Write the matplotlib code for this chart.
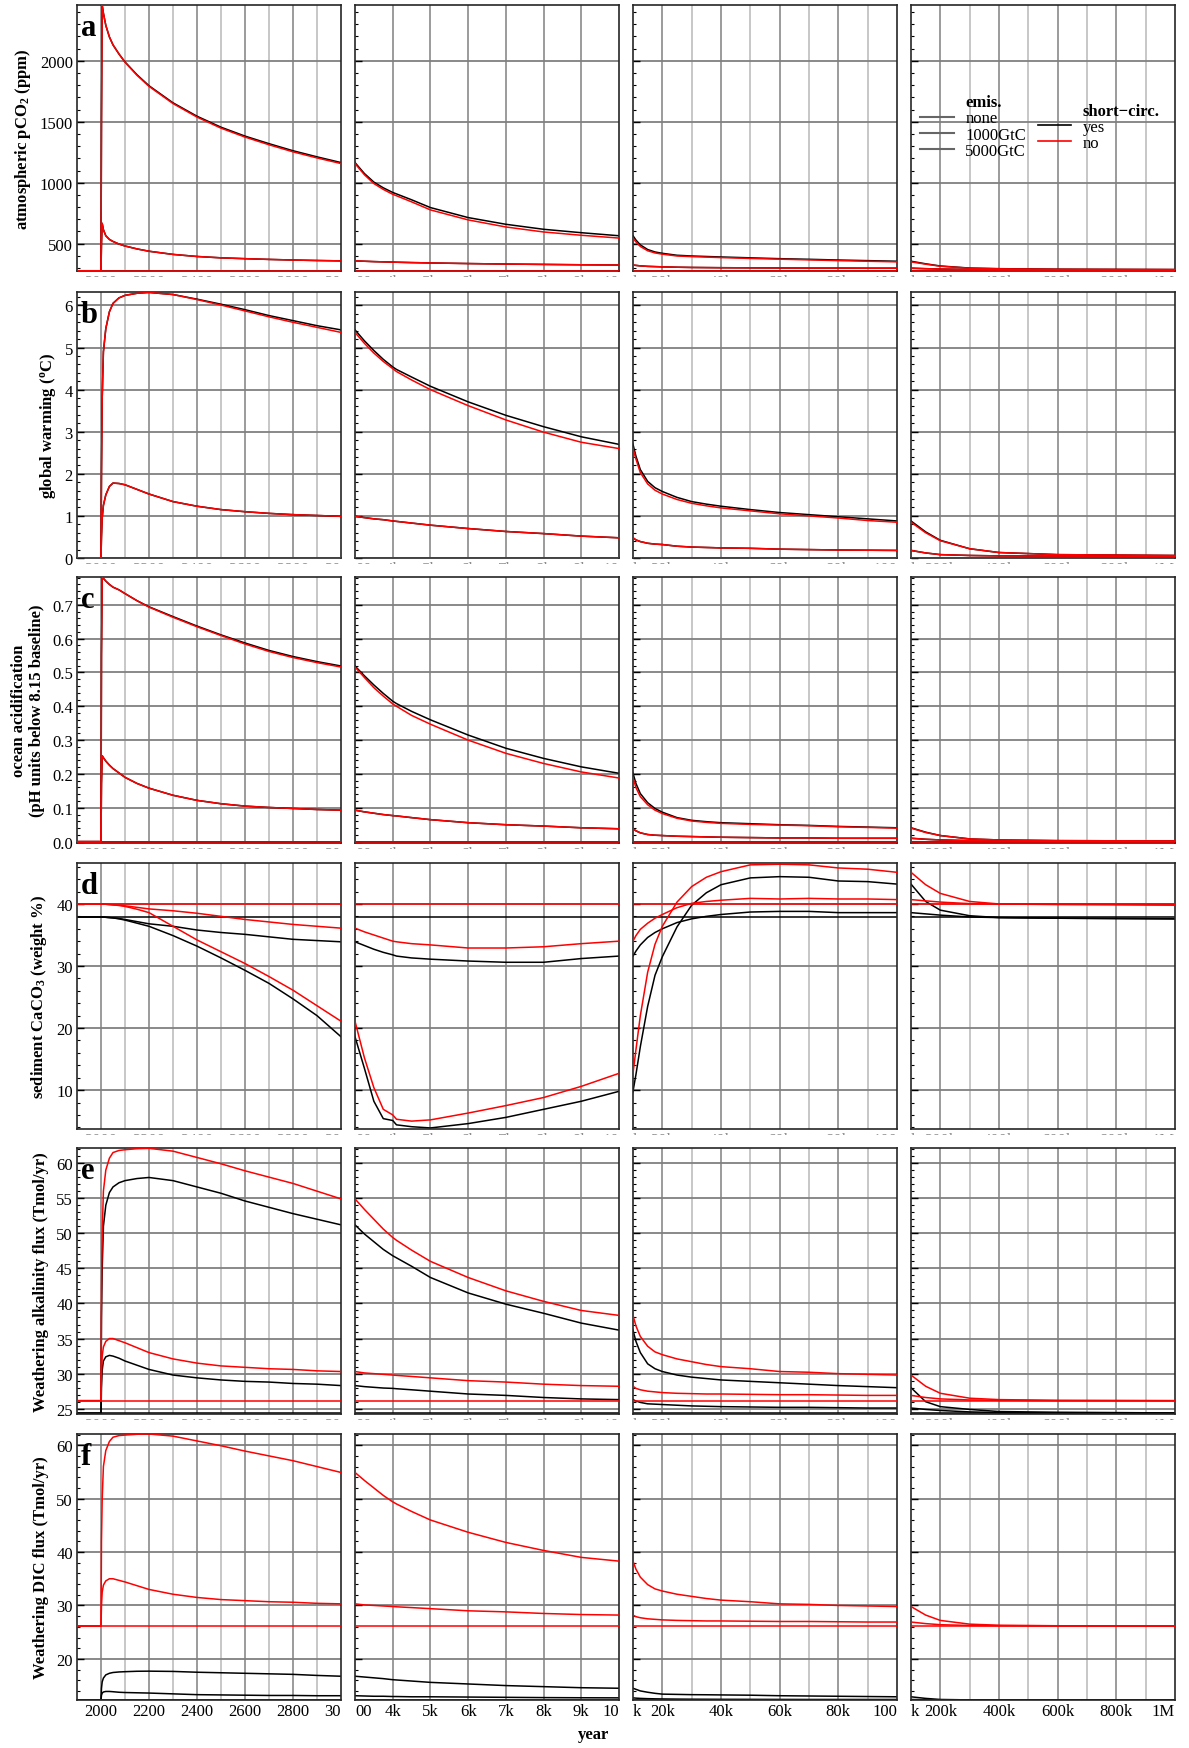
import matplotlib
matplotlib.use('Agg')
import matplotlib.pyplot as plt
from matplotlib.lines import Line2D
from matplotlib.ticker import MultipleLocator
from matplotlib.transforms import Bbox, TransformedBbox

plt.rcParams['font.family'] = 'Liberation Serif'
plt.rcParams['mathtext.fontset'] = 'custom'
plt.rcParams['mathtext.rm'] = 'Liberation Serif'
plt.rcParams['mathtext.it'] = 'Liberation Serif:italic'
plt.rcParams['mathtext.bf'] = 'Liberation Serif:bold'

# common time axis (years), shared by every series
years = [1900, 2000, 2002, 2005, 2010,
         2020, 2035, 2050, 2075, 2100,
         2150, 2200, 2300, 2400, 2500,
         2600, 2700, 2800, 2900, 3000,
         3250, 3500, 3750, 4000, 4100,
         4500, 5000, 6000, 7000, 8000,
         9000, 10000, 11000, 12500, 15000,
         17500, 20000, 25000, 30000, 35000,
         40000, 50000, 60000, 70000, 80000,
         90000, 100000, 150000, 200000, 300000,
         400000, 600000, 1000000]

# a: atmospheric pCO2 (ppm)
co2_none = 278
co2_1000 = [278, 278, 500, 667, 615,
            565, 535, 518, 497, 481,
            457, 438, 412, 395, 384,
            377, 371, 366, 362, 359,
            356, 353, 351, 349, 348,
            345, 342, 337, 333, 330,
            327, 325, 322, 318, 314,
            312, 310, 307, 305, 304,
            303, 302, 301, 300, 300,
            299, 299, 295, 292, 289,
            287, 285, 283]
co2_5000_yes = [278, 278, 1500, 2457, 2390,
                2290, 2195, 2130, 2055, 1990,
                1885, 1795, 1655, 1545, 1455,
                1382, 1320, 1262, 1212, 1165,
                1075, 1005, 958, 920, 908,
                860, 796, 714, 659, 618,
                590, 565, 530, 490, 452,
                432, 421, 405, 399, 395,
                391, 384, 377, 372, 366,
                361, 356, 335, 317, 300,
                295, 291, 288]
co2_5000_no = [278, 278, 1500, 2457, 2390,
               2290, 2195, 2130, 2055, 1988,
               1881, 1790, 1649, 1538, 1447,
               1374, 1311, 1253, 1203, 1157,
               1065, 993, 945, 905, 893,
               843, 777, 695, 637, 596,
               569, 546, 515, 477, 442,
               424, 414, 399, 394, 390,
               386, 379, 373, 367, 361,
               356, 351, 332, 315, 299,
               294, 290, 288]

# b: global warming (C)
warm_none = 0.0
warm_1000 = [0, 0, 0.5, 0.95, 1.25,
             1.5, 1.7, 1.78, 1.77, 1.74,
             1.63, 1.52, 1.34, 1.23, 1.15,
             1.10, 1.06, 1.03, 1.01, 0.99,
             0.96, 0.93, 0.91, 0.88, 0.87,
             0.83, 0.78, 0.70, 0.63, 0.58,
             0.52, 0.48, 0.43, 0.39, 0.35,
             0.33, 0.32, 0.28, 0.26, 0.25,
             0.24, 0.23, 0.21, 0.20, 0.19,
             0.185, 0.18, 0.12, 0.08, 0.06,
             0.05, 0.045, 0.04]
warm_5000_yes = [0, 0, 2.0, 3.8, 4.9,
                 5.45, 5.85, 6.05, 6.18, 6.24,
                 6.29, 6.31, 6.26, 6.15, 6.03,
                 5.90, 5.76, 5.64, 5.52, 5.42,
                 5.16, 4.93, 4.72, 4.54, 4.48,
                 4.30, 4.08, 3.71, 3.39, 3.12,
                 2.88, 2.70, 2.42, 2.10, 1.82,
                 1.67, 1.58, 1.44, 1.34, 1.28,
                 1.23, 1.15, 1.08, 1.03, 0.98,
                 0.93, 0.88, 0.62, 0.42, 0.22,
                 0.13, 0.08, 0.06]
warm_5000_no = [0, 0, 2.0, 3.8, 4.9,
                5.45, 5.85, 6.05, 6.18, 6.24,
                6.29, 6.31, 6.26, 6.14, 6.01,
                5.87, 5.73, 5.60, 5.48, 5.36,
                5.10, 4.87, 4.67, 4.50, 4.43,
                4.23, 4.00, 3.62, 3.28, 2.99,
                2.75, 2.60, 2.35, 2.03, 1.76,
                1.61, 1.52, 1.39, 1.30, 1.24,
                1.19, 1.12, 1.05, 1.00, 0.95,
                0.89, 0.85, 0.60, 0.41, 0.22,
                0.13, 0.08, 0.06]

# c: ocean acidification (pH units below 8.15)
acid_none = 0.0
acid_1000 = [0, 0, 0.17, 0.254, 0.248,
             0.238, 0.226, 0.216, 0.203, 0.19,
             0.172, 0.158, 0.137, 0.122, 0.112,
             0.105, 0.101, 0.098, 0.095, 0.093,
             0.088, 0.084, 0.080, 0.077, 0.076,
             0.071, 0.065, 0.056, 0.050, 0.046,
             0.041, 0.038, 0.032, 0.026, 0.021,
             0.019, 0.018, 0.016, 0.015, 0.014,
             0.013, 0.012, 0.011, 0.011, 0.010,
             0.010, 0.010, 0.007, 0.005, 0.003,
             0.002, 0.001, 0.001]
acid_5000_yes = [0, 0, 0.55, 0.78, 0.778,
                 0.77, 0.76, 0.752, 0.744, 0.733,
                 0.712, 0.694, 0.665, 0.637, 0.611,
                 0.587, 0.565, 0.547, 0.532, 0.519,
                 0.490, 0.463, 0.438, 0.415, 0.408,
                 0.385, 0.360, 0.315, 0.276, 0.246,
                 0.221, 0.202, 0.172, 0.142, 0.115,
                 0.098, 0.087, 0.071, 0.063, 0.059,
                 0.056, 0.053, 0.050, 0.048, 0.045,
                 0.043, 0.041, 0.028, 0.018, 0.008,
                 0.005, 0.003, 0.002]
acid_5000_no = [0, 0, 0.55, 0.78, 0.778,
                0.77, 0.76, 0.752, 0.744, 0.733,
                0.712, 0.693, 0.663, 0.635, 0.609,
                0.584, 0.562, 0.544, 0.529, 0.516,
                0.485, 0.455, 0.430, 0.407, 0.400,
                0.373, 0.347, 0.300, 0.261, 0.231,
                0.206, 0.188, 0.160, 0.133, 0.109,
                0.093, 0.083, 0.069, 0.061, 0.057,
                0.054, 0.051, 0.049, 0.047, 0.044,
                0.042, 0.040, 0.027, 0.018, 0.008,
                0.005, 0.003, 0.002]

# d: sediment CaCO3 (weight %)
sed_none_yes = 37.9
sed_none_no = 40.0
sed_1000_yes = [37.9, 37.9, 37.9, 37.9, 37.9,
                37.85, 37.8, 37.75, 37.65, 37.5,
                37.15, 36.8, 36.4, 35.8, 35.4,
                35.1, 34.7, 34.3, 34.1, 33.9,
                33.3, 32.7, 32.2, 31.8, 31.6,
                31.3, 31.1, 30.8, 30.6, 30.6,
                31.2, 31.6, 32.4, 33.4, 34.6,
                35.4, 36.0, 37.0, 37.6, 38.0,
                38.3, 38.7, 38.8, 38.8, 38.6,
                38.6, 38.6, 38.4, 38.2, 37.9,
                37.8, 37.7, 37.6]
sed_1000_no = [40, 40, 40, 40, 40,
               39.95, 39.9, 39.85, 39.8, 39.7,
               39.45, 39.2, 38.9, 38.5, 38.0,
               37.5, 37.1, 36.7, 36.4, 36.1,
               35.5, 35.0, 34.5, 34.0, 33.9,
               33.6, 33.4, 32.9, 32.9, 33.1,
               33.6, 34.0, 34.9, 35.9, 36.9,
               37.7, 38.3, 39.4, 40.1, 40.4,
               40.6, 40.9, 40.8, 40.9, 40.8,
               40.8, 40.7, 40.5, 40.3, 40.05,
               40.0, 40.0, 39.9]
sed_5000_yes = [37.9, 37.9, 37.9, 37.9, 37.9,
                37.85, 37.8, 37.75, 37.6, 37.4,
                36.9, 36.4, 34.9, 33.2, 31.3,
                29.3, 27.2, 24.7, 22.0, 18.6,
                13.5, 8.2, 5.4, 5.1, 4.4,
                4.1, 3.9, 4.6, 5.6, 6.9,
                8.2, 9.8, 12.5, 17.0, 23.5,
                28.5, 31.5, 36.3, 39.8, 41.8,
                43.1, 44.2, 44.4, 44.3, 43.7,
                43.6, 43.2, 40.4, 39.0, 38.1,
                37.8, 37.7, 37.6]
sed_5000_no = [40, 40, 40, 40, 40,
               39.95, 39.9, 39.85, 39.75, 39.6,
               39.15, 38.6, 36.4, 34.2, 32.3,
               30.4, 28.3, 26.1, 23.6, 21.1,
               15.2, 10.4, 6.9, 6.0, 5.3,
               5.0, 5.2, 6.3, 7.5, 8.8,
               10.6, 12.7, 16.5, 22.0, 29.0,
               33.5, 36.4, 40.3, 42.8, 44.3,
               45.2, 46.3, 46.4, 46.3, 45.8,
               45.6, 45.1, 43.1, 41.7, 40.4,
               40.0, 39.9, 39.8]

# e: weathering alkalinity flux (Tmol/yr)
alk_none_yes = 24.35
alk_none_no = 26.15
alk_1000_yes = [24.35, 24.35, 28.0, 30.5, 31.8,
                32.4, 32.6, 32.5, 32.2, 31.8,
                31.2, 30.6, 29.8, 29.4, 29.1,
                28.9, 28.8, 28.6, 28.5, 28.3,
                28.15, 28.05, 27.95, 27.9, 27.85,
                27.7, 27.5, 27.1, 26.9, 26.6,
                26.4, 26.3, 26.1, 25.9, 25.7,
                25.65, 25.6, 25.5, 25.4, 25.35,
                25.3, 25.25, 25.2, 25.2, 25.15,
                25.1, 25.1, 24.9, 24.75, 24.55,
                24.45, 24.4, 24.35]
alk_1000_no = [26.15, 26.15, 30.0, 32.5, 33.8,
               34.6, 35.0, 35.0, 34.7, 34.4,
               33.7, 33.0, 32.1, 31.5, 31.1,
               30.9, 30.7, 30.6, 30.4, 30.3,
               30.1, 30.0, 29.9, 29.8, 29.75,
               29.6, 29.4, 29.0, 28.8, 28.5,
               28.3, 28.2, 27.9, 27.7, 27.5,
               27.4, 27.3, 27.2, 27.15, 27.1,
               27.1, 27.05, 27.0, 27.0, 26.95,
               26.9, 26.9, 26.6, 26.4, 26.25,
               26.2, 26.15, 26.15]
alk_5000_yes = [24.35, 24.35, 38.0, 45.0, 51.0,
                54.0, 55.8, 56.6, 57.2, 57.5,
                57.8, 57.95, 57.5, 56.6, 55.7,
                54.6, 53.7, 52.8, 52.0, 51.2,
                49.9, 48.8, 47.7, 46.8, 46.5,
                45.3, 43.7, 41.5, 39.9, 38.6,
                37.2, 36.2, 34.6, 33.0, 31.4,
                30.7, 30.3, 29.8, 29.5, 29.3,
                29.1, 28.9, 28.7, 28.5, 28.3,
                28.15, 28.0, 26.0, 25.3, 24.9,
                24.6, 24.5, 24.4]
alk_5000_no = [26.15, 26.15, 42.0, 50.0, 56.0,
               59.0, 60.7, 61.5, 61.8, 61.9,
               62.05, 62.1, 61.7, 60.8, 59.9,
               58.9, 58.0, 57.1, 56.0, 54.9,
               53.4, 52.0, 50.6, 49.4, 49.0,
               47.6, 46.0, 43.7, 41.8, 40.3,
               39.0, 38.3, 36.8, 35.3, 33.9,
               33.1, 32.7, 32.1, 31.7, 31.3,
               31.0, 30.7, 30.3, 30.2, 30.0,
               29.9, 29.8, 28.2, 27.2, 26.5,
               26.3, 26.2, 26.15]

# f: weathering DIC flux (Tmol/yr); the red curves coincide with panel e
dic_none_yes = 12.3
dic_none_no = 26.15
dic_1000_yes = [12.3, 12.3, 13.2, 13.6, 13.8,
                13.9, 13.9, 13.85, 13.75, 13.7,
                13.65, 13.6, 13.45, 13.3, 13.25,
                13.2, 13.15, 13.15, 13.1, 13.1,
                13.05, 13.0, 13.0, 12.95, 12.95,
                12.9, 12.9, 12.85, 12.8, 12.75,
                12.72, 12.7, 12.65, 12.6, 12.55,
                12.52, 12.5, 12.47, 12.45, 12.44,
                12.43, 12.42, 12.41, 12.4, 12.4,
                12.4, 12.4, 12.35, 12.32, 12.3,
                12.3, 12.3, 12.3]
dic_1000_no = alk_1000_no
dic_5000_yes = [12.3, 12.3, 14.5, 15.7, 16.4,
                17.0, 17.3, 17.45, 17.55, 17.6,
                17.68, 17.7, 17.65, 17.5, 17.4,
                17.3, 17.2, 17.1, 16.9, 16.75,
                16.6, 16.45, 16.3, 16.1, 16.05,
                15.85, 15.6, 15.3, 15.0, 14.8,
                14.6, 14.5, 14.3, 14.0, 13.75,
                13.55, 13.4, 13.35, 13.3, 13.28,
                13.25, 13.2, 13.1, 13.05, 13.0,
                12.95, 12.9, 12.6, 12.4, 12.32,
                12.3, 12.3, 12.3]
dic_5000_no = alk_5000_no

rows = [
    dict(letter='a', label=r'atmospheric pCO$_{\mathbf{2}}$ (ppm)',
         ylim=(276, 2457), yticks=[500, 1000, 1500, 2000], minor=100, fmt='{:.0f}',
         none=(co2_none, co2_none), yes=[co2_1000, co2_5000_yes], no=[co2_1000, co2_5000_no]),
    dict(letter='b', label=r'global warming ($^{\mathbf{o}}$C)',
         ylim=(0, 6.32), yticks=[0, 1, 2, 3, 4, 5, 6], minor=0.2, fmt='{:.0f}',
         none=(warm_none, warm_none), yes=[warm_1000, warm_5000_yes], no=[warm_1000, warm_5000_no]),
    dict(letter='c', label='ocean acidification\n(pH units below 8.15 baseline)',
         ylim=(-0.004, 0.782), yticks=[0, 0.1, 0.2, 0.3, 0.4, 0.5, 0.6, 0.7], minor=0.02, fmt='{:.1f}',
         none=(acid_none, acid_none), yes=[acid_1000, acid_5000_yes], no=[acid_1000, acid_5000_no]),
    dict(letter='d', label=r'sediment CaCO$_{\mathbf{3}}$ (weight %)',
         ylim=(3.73, 46.6), yticks=[10, 20, 30, 40], minor=2, fmt='{:.0f}',
         none=(sed_none_yes, sed_none_no), yes=[sed_1000_yes, sed_5000_yes], no=[sed_1000_no, sed_5000_no]),
    dict(letter='e', label='Weathering alkalinity flux (Tmol/yr)',
         ylim=(24.25, 62.15), yticks=[25, 30, 35, 40, 45, 50, 55, 60], minor=1, fmt='{:.0f}',
         none=(alk_none_yes, alk_none_no), yes=[alk_1000_yes, alk_5000_yes], no=[alk_1000_no, alk_5000_no]),
    dict(letter='f', label='Weathering DIC flux (Tmol/yr)',
         ylim=(12.3, 62.1), yticks=[20, 30, 40, 50, 60], minor=2, fmt='{:.0f}',
         none=(dic_none_yes, dic_none_no), yes=[dic_1000_yes, dic_5000_yes], no=[dic_1000_no, dic_5000_no]),
]

# the labels at the panel edges are cut by the neighbouring panels in the original
col_xlim = [(1900, 3000), (3000, 10000), (10000, 100000), (100000, 1000000)]
col_ticks = [[2000, 2200, 2400, 2600, 2800, 3000],
             [3000, 4000, 5000, 6000, 7000, 8000, 9000, 10000],
             [10000, 20000, 40000, 60000, 80000, 100000],
             [100000, 200000, 400000, 600000, 800000, 1000000]]
col_ticklabels = [['2000', '2200', '2400', '2600', '2800', '30'],
                  ['00', '4k', '5k', '6k', '7k', '8k', '9k', '10'],
                  ['k', '20k', '40k', '60k', '80k', '100'],
                  ['k', '200k', '400k', '600k', '800k', '1M']]
col_grid = [[2000, 2100, 2200, 2300, 2400, 2500, 2600, 2700, 2800, 2900],
            [4000, 5000, 6000, 7000, 8000, 9000],
            [20000, 30000, 40000, 50000, 60000, 70000, 80000, 90000],
            [200000, 300000, 400000, 500000, 600000, 700000, 800000, 900000]]

W, H = 1189, 1749
fig = plt.figure(figsize=(W / 100, H / 100), dpi=100)
col_left = [77, 355, 633, 911]
col_w = 264
row_top = [6, 293, 578, 864, 1149, 1435]
row_h = 266

for i, row in enumerate(rows):
    for j in range(4):
        ax = fig.add_axes([col_left[j] / W, 1 - (row_top[i] + row_h) / H, col_w / W, row_h / H])
        ax.set_xlim(col_xlim[j])
        ax.set_ylim(row['ylim'])

        # grid
        for g in col_grid[j]:
            shade = '0.5' if (g in col_ticks[j] or j == 1) else '0.72'
            ax.axvline(g, color=shade, lw=1.1, zorder=0.5)
        for yt in row['yticks']:
            if row['ylim'][0] < yt < row['ylim'][1]:
                ax.axhline(yt, color='0.5', lw=1.3, zorder=0.5)

        # none lines, then 1000 / 5000 runs; red (no short-circuit) drawn on top
        ax.axhline(row['none'][0], color='black', lw=1.1, zorder=2)
        for s in row['yes']:
            ax.plot(years, s, color='black', lw=1.1, zorder=2)
        ax.axhline(row['none'][1], color='#ff0000', lw=1.1, zorder=3)
        for s in row['no']:
            ax.plot(years, s, color='#ff0000', lw=1.1, zorder=3)

        ax.set_xticks(col_ticks[j])
        ax.set_xticklabels(col_ticklabels[j])
        ax.tick_params(axis='x', direction='in', length=0, pad=2.5, labelsize=12)
        ax.set_yticks(row['yticks'])
        ax.yaxis.set_minor_locator(MultipleLocator(row['minor']))
        ax.tick_params(axis='y', which='major', direction='in', length=5, width=1, pad=3, labelsize=12)
        ax.tick_params(axis='y', which='minor', direction='in', length=2.5, width=0.8)
        if j == 0:
            ax.set_yticklabels([row['fmt'].format(v) for v in row['yticks']])
            ax.set_ylabel(row['label'], fontsize=12, fontweight='bold', labelpad=5)
            ax.text(4 / col_w, 1 - 30 / row_h, row['letter'], transform=ax.transAxes,
                    fontsize=22, fontweight='bold', va='baseline', ha='left', zorder=5)
        else:
            ax.set_yticklabels([])

        for sp in ax.spines.values():
            sp.set_color('0.15')
            sp.set_linewidth(1.2)

        labels = ax.get_xticklabels()
        if j > 0:
            labels[0].set_horizontalalignment('left')
        labels[-1].set_horizontalalignment('right')
        if i < 5:
            # above the bottom row only the top sliver of the labels shows
            box = TransformedBbox(Bbox([[0, -5.5 / row_h], [1, -3.2 / row_h]]), ax.transAxes)
            for lab in labels:
                lab.set_color('0.55')
                lab.set_clip_box(box)
                lab.set_clip_on(True)

        if i == 0 and j == 3:
            gray = '0.4'
            h1 = [Line2D([], [], color='none'), Line2D([], [], color=gray, lw=1.5),
                  Line2D([], [], color=gray, lw=1.5), Line2D([], [], color=gray, lw=1.5)]
            leg1 = ax.legend(h1, ['emis.', 'none', '1000GtC', '5000GtC'], loc='upper left',
                             bbox_to_anchor=(0.035, 0.665), frameon=False, fontsize=12,
                             handlelength=2.0, handletextpad=0.7, labelspacing=0.02,
                             borderaxespad=0, borderpad=0)
            leg1.get_texts()[0].set_fontweight('bold')
            ax.add_artist(leg1)
            h2 = [Line2D([], [], color='none'), Line2D([], [], color='black', lw=1.2),
                  Line2D([], [], color='#ff0000', lw=1.2)]
            leg2 = ax.legend(h2, ['short\u2212circ.', 'yes', 'no'], loc='upper left',
                             bbox_to_anchor=(0.48, 0.633), frameon=False, fontsize=12,
                             handlelength=2.0, handletextpad=0.7, labelspacing=0.02,
                             borderaxespad=0, borderpad=0)
            leg2.get_texts()[0].set_fontweight('bold')

fig.text(593 / W, 1 - 1735 / H, 'year', ha='center', va='center', fontsize=12, fontweight='bold')

fig.savefig('out.png', dpi=100)
